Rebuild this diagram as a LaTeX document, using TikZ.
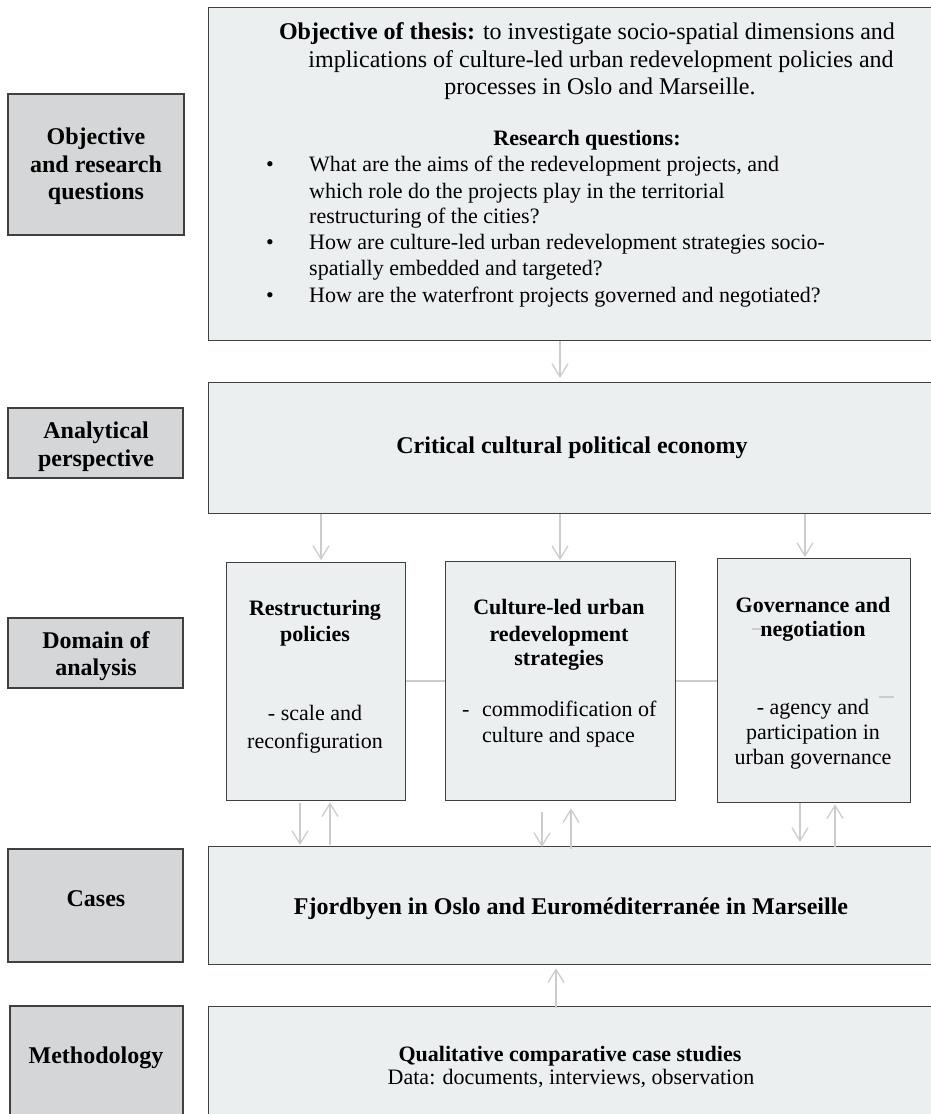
\documentclass[tikz,border=0pt]{standalone}
\usepackage{fontspec}
\setmainfont{Liberation Serif}
\usetikzlibrary{arrows.meta}
\definecolor{mainfill}{HTML}{ECEFF0}
\definecolor{labfill}{HTML}{D5D6D8}
\definecolor{boxline}{HTML}{404040}
\definecolor{arrgray}{HTML}{CCCCCC}
\tikzset{
  mainbox/.style={draw=boxline, fill=mainfill, line width=1.3pt},
  labbox/.style={draw=boxline, fill=labfill, line width=1.3pt},
  arr/.style={draw=arrgray, line width=1.3pt, -{Straight Barb[length=13pt,width=16pt,line width=1.3pt]}},
  link/.style={draw=arrgray, line width=1.6pt},
  body/.style={inner sep=0pt, font=\fontsize{22}{26}\selectfont},
  bodyl/.style={inner sep=0pt, font=\fontsize{24}{28}\selectfont},
  bodyb/.style={inner sep=0pt, font=\fontsize{22}{26}\selectfont\bfseries},
  labt/.style={inner sep=0pt, font=\fontsize{24}{28}\selectfont\bfseries},
  headt/.style={inner sep=0pt, font=\fontsize{24}{28}\selectfont\bfseries},
}
\begin{document}
\begin{tikzpicture}[x=1pt,y=-1pt]
\useasboundingbox (0,0) rectangle (931,1114);
\clip (0,0) rectangle (931,1114);
% boxes
\path[labbox] (8,94) rectangle (184,235);
\path[labbox] (8,408) rectangle (183,478);
\path[labbox] (8,618) rectangle (183,688);
\path[labbox] (8,849) rectangle (183,962);
\path[labbox] (10,1006) rectangle (183,1130);
\node[mainbox, anchor=north west, minimum width=726pt, minimum height=333pt] (top) at (208,7) {};
\node[mainbox, anchor=north west, minimum width=726pt, minimum height=131pt] (ana) at (208,382) {};
\node[mainbox, anchor=north west, minimum width=179pt, minimum height=238pt] (d1) at (226,562) {};
\node[mainbox, anchor=north west, minimum width=230pt, minimum height=239pt] (d2) at (445,561) {};
\node[mainbox, anchor=north west, minimum width=193pt, minimum height=244pt] (d3) at (717,558) {};
\node[mainbox, anchor=north west, minimum width=726pt, minimum height=118pt] (cases) at (208,846) {};
\node[mainbox, anchor=north west, minimum width=726pt, minimum height=130pt] (meth) at (208,1006) {};
% left labels
\node[labt, anchor=base] (l1a) at (96,144) {Objective};
\node[labt, anchor=base] (l1b) at (96,172) {and research};
\node[labt, anchor=base] (l1c) at (96,199) {questions};
\node[labt, anchor=base] (l2a) at (96,438) {Analytical};
\node[labt, anchor=base] (l2b) at (96,466) {perspective};
\node[labt, anchor=base] (l3a) at (96,648) {Domain of};
\node[labt, anchor=base] (l3b) at (96,675) {analysis};
\node[labt, anchor=base] (l4) at (96,906) {Cases};
\node[labt, anchor=base] (l5) at (96,1063) {Methodology};
% top box text
\node[bodyl, anchor=base] (t1) at (587,39) {\textbf{Objective of thesis:} to investigate socio-spatial dimensions and};
\node[bodyl, anchor=base] (t2) at (601,67) {implications of culture-led urban redevelopment policies and};
\node[bodyl, anchor=base] (t3) at (600,94) {processes in Oslo and Marseille.};
\node[bodyb, anchor=base] (rq) at (587,145) {Research questions:};
\node[body, anchor=base] (bu1) at (270,171) {\textbullet};
\node[body, anchor=base west] (q1a) at (309,171) {What are the aims of the redevelopment projects, and};
\node[body, anchor=base west] (q1b) at (309,198) {which role do the projects play in the territorial};
\node[body, anchor=base west] (q1c) at (309,223) {restructuring of the cities?};
\node[body, anchor=base] (bu2) at (270,249) {\textbullet};
\node[body, anchor=base west] (q2a) at (309,249) {How are culture-led urban redevelopment strategies socio-};
\node[body, anchor=base west] (q2b) at (309,275) {spatially embedded and targeted?};
\node[body, anchor=base] (bu3) at (270,302) {\textbullet};
\node[body, anchor=base west] (q3a) at (309,302) {How are the waterfront projects governed and negotiated?};
% analytical
\node[headt, anchor=base] (cc) at (572,453) {Critical cultural political economy};
% domain boxes
\node[bodyb, anchor=base] (r1) at (315,615) {Restructuring};
\node[bodyb, anchor=base] (r2) at (315,641) {policies};
\node[body, anchor=base] (r3) at (315,720) {- scale and};
\node[body, anchor=base] (r4) at (315,748) {reconfiguration};
\node[bodyb, anchor=base] (c1) at (559,614) {Culture-led urban};
\node[bodyb, anchor=base] (c2) at (559,641) {redevelopment};
\node[bodyb, anchor=base] (c3) at (559,665) {strategies};
\node[body, anchor=base west] (cd) at (462,716) {-};
\node[body, anchor=base west] (c4) at (482,716) {commodification of};
\node[body, anchor=base west] (c5) at (482,742) {culture and space};
\node[bodyb, anchor=base] (g1) at (813,612) {Governance and};
\node[bodyb, anchor=base] (g2) at (813,636) {negotiation};
\node[body, anchor=base] (g3) at (813,714) {- agency and};
\node[body, anchor=base] (g4) at (813,739) {participation in};
\node[body, anchor=base] (g5) at (813,764) {urban governance};
% cases and methodology
\node[headt, anchor=base] (fj) at (571,914) {Fjordbyen in Oslo and Euroméditerranée in Marseille};
\node[bodyb, anchor=base] (qc) at (570,1061) {Qualitative comparative case studies};
\node[body, anchor=base] (dt) at (571,1084) {Data: documents, interviews, observation};
% arrow x positions
\coordinate (xa) at (560,0);
\coordinate (xb) at (321,0);
\coordinate (xc) at (805,0);
\coordinate (xd) at (300,0);
\coordinate (xe) at (330,0);
\coordinate (xf) at (542,0);
\coordinate (xg) at (571,0);
\coordinate (xh) at (800,0);
\coordinate (xi) at (835,0);
\coordinate (xj) at (556,0);
% arrows
\draw[arr, shorten >=4pt] (top.south -| xa) -- (ana.north -| xa);
\draw[arr, shorten >=2pt] (ana.south -| xb) -- (d1.north -| xb);
\draw[arr, shorten >=1pt] (ana.south -| xa) -- (d2.north -| xa);
\draw[arr, shorten >=1pt] (ana.south -| xc) -- (d3.north -| xc);
\draw[arr, shorten <=2pt, shorten >=1pt] (d1.south -| xd) -- (cases.north -| xd);
\draw[arr, shorten <=1pt, shorten >=1pt] (cases.north -| xe) -- (d1.south -| xe);
\draw[arr, shorten <=11pt] (d2.south -| xf) -- ([yshift=-1pt]cases.north -| xf);
\draw[arr, shorten <=-3pt, shorten >=7pt] (cases.north -| xg) -- (d2.south -| xg);
\draw[arr, shorten >=4pt] (d3.south -| xh) -- (cases.north -| xh);
\draw[arr, shorten <=-1pt, shorten >=1pt] (cases.north -| xi) -- (d3.south -| xi);
\draw[arr, shorten <=-2pt, shorten >=3pt] (meth.north -| xj) -- (cases.south -| xj);
% links between domain boxes
\coordinate (ly) at (0,681);
\draw[link] (d1.east |- ly) -- (d2.west |- ly);
\draw[link] (d2.east |- ly) -- (d3.west |- ly);
% stray marks
\coordinate (m1a) at (752,629); \coordinate (m1b) at (762,629);
\coordinate (m2a) at (879,697); \coordinate (m2b) at (894,697);
\draw[link, line width=1.2pt] (m1a) -- (m1b);
\draw[link, line width=1.2pt] (m2a) -- (m2b);
\end{tikzpicture}
\end{document}
